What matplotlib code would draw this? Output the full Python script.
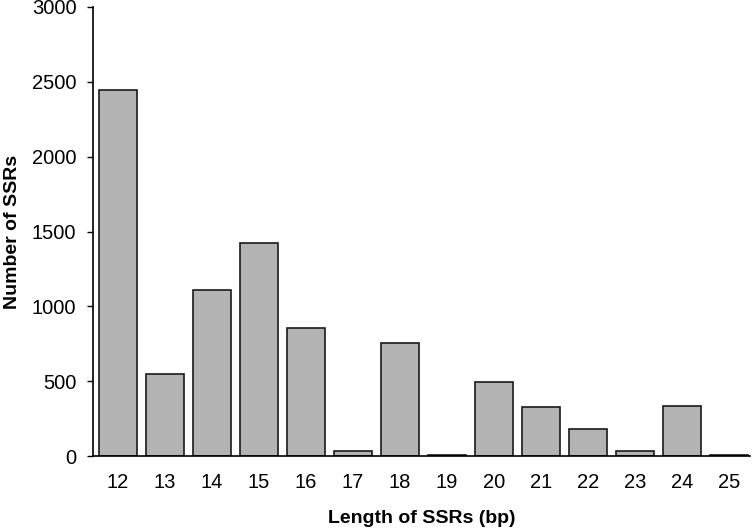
import matplotlib
matplotlib.use("Agg")
import matplotlib.pyplot as plt
import numpy as np

lengths = ["12", "13", "14", "15", "16", "17", "18", "19", "20", "21", "22", "23", "24", "25"]
counts = [2445, 551, 1110, 1422, 857, 34, 755, 10, 495, 326, 183, 31, 332, 5]
yticks = [0, 500, 1000, 1500, 2000, 2500, 3000]

plt.rcParams['font.family'] = ['Liberation Sans', 'DejaVu Sans']

fig = plt.figure(figsize=(7.55, 5.28), dpi=100)
ax = fig.add_axes([93/755, 1-456/528, (750-93)/755, (456-7)/528])

x = np.arange(len(lengths))
ax.bar(x, counts, width=0.8, color='#b3b3b3', edgecolor='#1a1a1a', linewidth=1.2, zorder=2)

ax.set_xlim(-0.53, 13.45)
ax.set_ylim(0, 3000)
ax.set_yticks(yticks)
ax.set_yticklabels([str(v) for v in yticks])
ax.set_xticks(x)
ax.set_xticklabels(lengths)

for s in ['top', 'right']:
    ax.spines[s].set_visible(False)
for s in ['left', 'bottom']:
    ax.spines[s].set_linewidth(1.2)
    ax.spines[s].set_color('black')

ax.tick_params(axis='y', length=4, width=1.0, pad=8, labelsize=14.5)
ax.tick_params(axis='x', length=0, pad=12, labelsize=14.5)

ax.set_xlabel('Length of SSRs (bp)', fontsize=14, fontweight='bold', labelpad=13)
ax.set_ylabel('Number of SSRs', fontsize=14, fontweight='bold', labelpad=8)

fig.savefig('out.png', dpi=100)
